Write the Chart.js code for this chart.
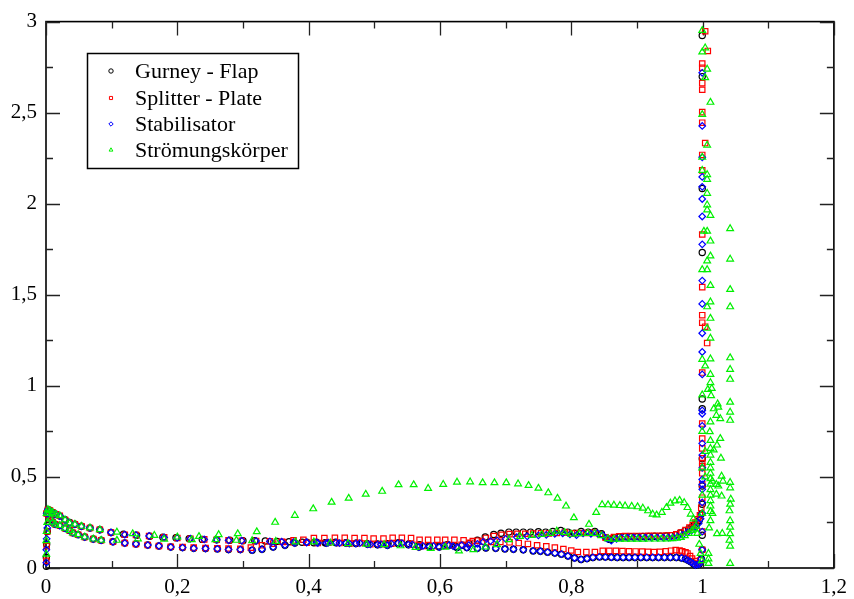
<!DOCTYPE html>
<html><head><meta charset="utf-8">
<script src="https://cdn.jsdelivr.net/npm/chart.js@4.4.1/dist/chart.umd.min.js"></script>
<style>html,body{margin:0;padding:0;background:#fff;}</style>
</head><body>
<canvas id="c" width="854" height="599"></canvas>
<script>
// ---------- tick labels ----------
const xTickValues = [0, 0.2, 0.4, 0.6, 0.8, 1, 1.2];
const xTickLabels = ['0', '0,2', '0,4', '0,6', '0,8', '1', '1,2'];
const xMinorTicks = [0.1, 0.3, 0.5, 0.7, 0.9, 1.1];
const yTickValues = [0, 0.5, 1, 1.5, 2, 2.5, 3];
const yTickLabels = ['0', '0,5', '1', '1,5', '2', '2,5', '3'];
const yMinorTicks = [0.25, 0.75, 1.25, 1.75, 2.25, 2.75];
const seriesNames = ['Gurney - Flap', 'Splitter - Plate', 'Stabilisator', 'Strömungskörper'];

// ---------- Gurney - Flap ----------
const gurneyUpper = [[0.001,0.30],[0.003,0.32],[0.006,0.315],[0.010,0.305],[0.015,0.295],[0.021,0.285],[0.029,0.265],[0.036,0.250],[0.044,0.240],[0.054,0.229],[0.067,0.220],[0.082,0.210],[0.099,0.195],[0.118,0.185],[0.138,0.180],[0.158,0.174],[0.178,0.169],[0.198,0.166],[0.218,0.161],[0.238,0.157],[0.260,0.155],[0.280,0.152],[0.300,0.150],[0.318,0.150],[0.334,0.148],[0.352,0.146],[0.370,0.144],[0.390,0.141],[0.408,0.139],[0.425,0.139],[0.441,0.141],[0.457,0.139],[0.473,0.137],[0.489,0.134],[0.505,0.132],[0.521,0.134],[0.537,0.139],[0.553,0.134],[0.569,0.128],[0.584,0.123],[0.598,0.121],[0.611,0.128],[0.624,0.118],[0.634,0.125],[0.644,0.134],[0.657,0.152],[0.669,0.170],[0.682,0.184],[0.693,0.191],[0.705,0.197],[0.716,0.197],[0.727,0.197],[0.738,0.197],[0.750,0.199],[0.761,0.197],[0.772,0.200],[0.784,0.206],[0.795,0.197],[0.805,0.191],[0.815,0.200],[0.826,0.197],[0.836,0.200],[0.846,0.188],[0.853,0.166],[0.859,0.157],[0.866,0.166],[0.873,0.170],[0.882,0.171],[0.891,0.172],[0.900,0.172],[0.909,0.173],[0.918,0.173],[0.927,0.174],[0.936,0.175],[0.945,0.176],[0.952,0.178],[0.959,0.182],[0.966,0.192],[0.973,0.204],[0.979,0.215],[0.984,0.226],[0.988,0.238],[0.992,0.250],[0.995,0.262],[0.998,0.296]];
const gurneyLower = [[0.0005,0.01],[0.0005,0.058],[0.001,0.13],[0.002,0.2],[0.004,0.29],[0.007,0.27],[0.010,0.251],[0.014,0.240],[0.021,0.233],[0.029,0.218],[0.036,0.206],[0.041,0.193],[0.049,0.183],[0.059,0.170],[0.072,0.159],[0.084,0.152],[0.102,0.144],[0.120,0.137],[0.137,0.132],[0.155,0.126],[0.172,0.121],[0.190,0.115],[0.208,0.112],[0.225,0.108],[0.243,0.107],[0.261,0.105],[0.278,0.101],[0.296,0.101],[0.314,0.098],[0.329,0.103],[0.346,0.115],[0.364,0.125],[0.379,0.137],[0.397,0.142],[0.412,0.141],[0.427,0.137],[0.442,0.139],[0.457,0.137],[0.472,0.134],[0.490,0.130],[0.505,0.128],[0.520,0.125],[0.536,0.135],[0.552,0.128],[0.568,0.115],[0.584,0.117],[0.599,0.115],[0.614,0.125],[0.626,0.112],[0.641,0.112],[0.657,0.108],[0.670,0.110],[0.685,0.108],[0.699,0.105],[0.712,0.103],[0.727,0.100],[0.742,0.094],[0.753,0.092],[0.764,0.087],[0.775,0.082],[0.785,0.076],[0.795,0.066],[0.805,0.055],[0.815,0.047],[0.824,0.052],[0.833,0.058],[0.843,0.061],[0.852,0.060],[0.861,0.059],[0.870,0.058],[0.879,0.058],[0.888,0.058],[0.897,0.058],[0.906,0.058],[0.915,0.058],[0.924,0.058],[0.933,0.058],[0.942,0.058],[0.951,0.058],[0.960,0.058],[0.968,0.055],[0.974,0.050],[0.978,0.042],[0.982,0.034],[0.986,0.024],[0.989,0.016],[0.992,0.018],[0.995,0.022],[0.998,0.05]];
const gurneyEdge = [[0.9995,0.10],[0.9995,0.18],[0.9995,0.35],[0.9995,0.45],[0.9995,0.60],[0.9995,0.874],[0.9995,0.928],[0.9995,1.732],[0.9995,2.084],[0.9995,2.698],[0.9995,2.924]];

// ---------- Splitter - Plate ----------
const splitterUpper = [[0.001,0.30],[0.003,0.32],[0.006,0.315],[0.010,0.305],[0.015,0.295],[0.021,0.287],[0.029,0.264],[0.036,0.247],[0.044,0.240],[0.054,0.229],[0.067,0.220],[0.082,0.210],[0.099,0.195],[0.120,0.183],[0.137,0.181],[0.157,0.176],[0.180,0.168],[0.200,0.165],[0.220,0.161],[0.241,0.157],[0.260,0.155],[0.278,0.152],[0.298,0.150],[0.320,0.148],[0.341,0.146],[0.359,0.144],[0.377,0.142],[0.397,0.139],[0.414,0.137],[0.430,0.139],[0.447,0.137],[0.462,0.134],[0.478,0.137],[0.494,0.130],[0.510,0.130],[0.526,0.134],[0.542,0.137],[0.558,0.128],[0.574,0.121],[0.590,0.121],[0.606,0.123],[0.620,0.125],[0.633,0.128],[0.646,0.138],[0.658,0.150],[0.670,0.165],[0.682,0.175],[0.694,0.182],[0.706,0.186],[0.718,0.188],[0.730,0.188],[0.742,0.189],[0.754,0.190],[0.766,0.190],[0.778,0.192],[0.790,0.195],[0.801,0.190],[0.812,0.192],[0.823,0.192],[0.834,0.193],[0.844,0.185],[0.852,0.168],[0.858,0.162],[0.865,0.170],[0.873,0.174],[0.882,0.175],[0.891,0.176],[0.900,0.176],[0.909,0.176],[0.918,0.177],[0.927,0.177],[0.936,0.177],[0.945,0.178],[0.953,0.180],[0.960,0.185],[0.967,0.195],[0.974,0.208],[0.980,0.222],[0.985,0.236],[0.989,0.250],[0.993,0.268],[0.996,0.290],[0.998,0.330]];
const splitterLower = [[0.0005,0.04],[0.001,0.12],[0.002,0.2],[0.004,0.29],[0.007,0.27],[0.010,0.251],[0.014,0.240],[0.021,0.233],[0.029,0.218],[0.036,0.206],[0.041,0.193],[0.049,0.183],[0.059,0.170],[0.072,0.159],[0.084,0.152],[0.102,0.144],[0.120,0.137],[0.137,0.132],[0.155,0.126],[0.172,0.121],[0.190,0.117],[0.208,0.115],[0.225,0.112],[0.243,0.110],[0.261,0.108],[0.278,0.107],[0.296,0.105],[0.312,0.112],[0.329,0.125],[0.346,0.134],[0.361,0.143],[0.377,0.152],[0.392,0.155],[0.408,0.164],[0.424,0.164],[0.440,0.166],[0.455,0.166],[0.470,0.164],[0.485,0.164],[0.499,0.162],[0.514,0.162],[0.528,0.166],[0.542,0.166],[0.556,0.164],[0.569,0.155],[0.582,0.155],[0.596,0.155],[0.608,0.155],[0.622,0.155],[0.636,0.152],[0.650,0.148],[0.664,0.145],[0.678,0.143],[0.692,0.143],[0.706,0.141],[0.720,0.137],[0.734,0.132],[0.748,0.125],[0.762,0.119],[0.775,0.112],[0.788,0.104],[0.800,0.096],[0.810,0.088],[0.823,0.087],[0.836,0.088],[0.848,0.094],[0.858,0.094],[0.868,0.094],[0.878,0.093],[0.888,0.092],[0.898,0.091],[0.908,0.090],[0.917,0.089],[0.926,0.088],[0.935,0.089],[0.944,0.092],[0.952,0.095],[0.959,0.098],[0.965,0.096],[0.969,0.092],[0.974,0.086],[0.977,0.080],[0.981,0.065],[0.984,0.052],[0.988,0.038],[0.992,0.025],[0.997,0.043]];
const splitterEdge = [[0.9995,0.10],[0.9995,0.2],[0.9995,0.386],[0.9995,0.459],[0.9995,0.52],[0.9995,0.558],[0.9995,0.576],[0.9995,0.603],[0.9995,0.657],[0.9995,0.711],[0.9995,0.793],[0.9995,1.073],[1.007,1.235],[1.004,1.325],[0.9995,1.347],[0.9995,1.388],[0.9995,1.542],[0.9995,1.831],[0.9995,2.183],[0.9995,2.268],[1.004,2.333],[0.9995,2.445],[0.9995,2.503],[0.9995,2.626],[0.9995,2.662],[0.9995,2.747],[0.9995,2.770],[1.008,2.839],[1.004,2.947]];

// ---------- Stabilisator ----------
const stabUpper = [[0.001,0.30],[0.003,0.32],[0.006,0.315],[0.010,0.305],[0.015,0.295],[0.021,0.287],[0.029,0.264],[0.036,0.247],[0.044,0.240],[0.054,0.229],[0.067,0.220],[0.082,0.210],[0.099,0.195],[0.120,0.183],[0.137,0.181],[0.157,0.176],[0.180,0.168],[0.200,0.165],[0.220,0.161],[0.241,0.157],[0.260,0.155],[0.278,0.152],[0.298,0.150],[0.320,0.148],[0.341,0.146],[0.359,0.144],[0.377,0.142],[0.397,0.139],[0.414,0.137],[0.430,0.139],[0.447,0.137],[0.462,0.134],[0.478,0.137],[0.494,0.130],[0.510,0.130],[0.526,0.134],[0.542,0.137],[0.558,0.128],[0.574,0.121],[0.590,0.121],[0.606,0.123],[0.620,0.120],[0.633,0.125],[0.644,0.125],[0.657,0.132],[0.666,0.143],[0.677,0.148],[0.687,0.152],[0.700,0.160],[0.717,0.170],[0.733,0.174],[0.750,0.179],[0.762,0.182],[0.775,0.188],[0.787,0.190],[0.798,0.185],[0.808,0.180],[0.818,0.190],[0.830,0.188],[0.840,0.190],[0.848,0.180],[0.855,0.160],[0.861,0.150],[0.869,0.160],[0.877,0.165],[0.886,0.166],[0.895,0.166],[0.904,0.166],[0.913,0.166],[0.922,0.167],[0.931,0.167],[0.940,0.167],[0.948,0.167],[0.955,0.168],[0.962,0.172],[0.970,0.182],[0.977,0.195],[0.984,0.208],[0.990,0.225],[0.994,0.245],[0.997,0.270]];
const stabLower = [[0.0005,0.029],[0.0005,0.10],[0.001,0.16],[0.002,0.22],[0.004,0.30],[0.007,0.27],[0.010,0.251],[0.014,0.240],[0.021,0.233],[0.029,0.218],[0.036,0.206],[0.041,0.193],[0.049,0.183],[0.059,0.170],[0.072,0.159],[0.084,0.152],[0.102,0.144],[0.120,0.137],[0.137,0.132],[0.155,0.126],[0.172,0.121],[0.190,0.115],[0.208,0.112],[0.225,0.108],[0.243,0.107],[0.261,0.105],[0.278,0.101],[0.296,0.101],[0.314,0.098],[0.329,0.103],[0.346,0.115],[0.364,0.125],[0.379,0.137],[0.397,0.142],[0.412,0.141],[0.427,0.137],[0.442,0.139],[0.457,0.137],[0.472,0.134],[0.490,0.130],[0.505,0.128],[0.520,0.125],[0.536,0.135],[0.552,0.128],[0.568,0.115],[0.584,0.117],[0.599,0.115],[0.614,0.125],[0.626,0.112],[0.641,0.112],[0.657,0.108],[0.670,0.110],[0.685,0.108],[0.699,0.105],[0.712,0.103],[0.727,0.100],[0.742,0.094],[0.753,0.092],[0.764,0.087],[0.775,0.082],[0.785,0.076],[0.795,0.066],[0.805,0.055],[0.815,0.047],[0.824,0.052],[0.833,0.058],[0.843,0.061],[0.852,0.060],[0.861,0.059],[0.870,0.058],[0.879,0.058],[0.888,0.058],[0.897,0.058],[0.906,0.058],[0.915,0.058],[0.924,0.058],[0.933,0.058],[0.942,0.058],[0.951,0.058],[0.960,0.058],[0.968,0.055],[0.974,0.050],[0.978,0.042],[0.982,0.034],[0.986,0.024],[0.989,0.016],[0.992,0.018],[0.995,0.022],[0.998,0.05]];
const stabEdge = [[0.9995,0.10],[0.9995,0.20],[0.9995,0.30],[0.9995,0.36],[0.9995,0.432],[0.9995,0.459],[0.9995,0.486],[0.9995,0.55],[0.9995,0.62],[0.9995,0.684],[0.9995,0.78],[0.9995,0.847],[0.9995,0.865],[0.9995,1.063],[0.9995,1.186],[0.9995,1.289],[0.9995,1.45],[0.9995,1.578],[0.9995,1.777],[0.9995,1.930],[0.9995,2.026],[0.9995,2.093],[0.9995,2.147],[0.9995,2.255],[0.9995,2.427],[0.9995,2.719]];

// ---------- Strömungskörper ----------
const stroemUpper = [[0.001,0.30],[0.003,0.32],[0.006,0.315],[0.010,0.305],[0.015,0.295],[0.021,0.287],[0.029,0.264],[0.036,0.247],[0.044,0.240],[0.054,0.229],[0.067,0.220],[0.082,0.210],[0.108,0.197],[0.132,0.188],[0.165,0.179],[0.200,0.170],[0.233,0.173],[0.263,0.183],[0.292,0.188],[0.321,0.199],[0.349,0.251],[0.379,0.289],[0.407,0.325],[0.435,0.361],[0.461,0.383],[0.487,0.405],[0.512,0.421],[0.537,0.457],[0.560,0.457],[0.582,0.437],[0.605,0.459],[0.626,0.471],[0.646,0.473],[0.665,0.468],[0.683,0.468],[0.701,0.468],[0.719,0.462],[0.735,0.453],[0.750,0.438],[0.765,0.413],[0.779,0.383],[0.792,0.340],[0.804,0.276],[0.827,0.240],[0.838,0.305],[0.847,0.348],[0.856,0.347],[0.865,0.345],[0.874,0.343],[0.882,0.341],[0.892,0.339],[0.901,0.336],[0.909,0.329],[0.917,0.314],[0.924,0.296],[0.930,0.291],[0.938,0.305],[0.945,0.332],[0.951,0.356],[0.958,0.368],[0.965,0.372],[0.972,0.359],[0.977,0.332],[0.982,0.296],[0.986,0.269],[0.990,0.230]];
const stroemLower = [[0.0005,0.076],[0.0005,0.15],[0.001,0.2],[0.002,0.25],[0.004,0.3],[0.007,0.27],[0.010,0.251],[0.014,0.240],[0.021,0.233],[0.029,0.218],[0.036,0.206],[0.041,0.193],[0.049,0.183],[0.059,0.170],[0.072,0.159],[0.084,0.152],[0.108,0.152],[0.140,0.160],[0.180,0.158],[0.222,0.155],[0.258,0.155],[0.290,0.152],[0.314,0.150],[0.350,0.146],[0.380,0.143],[0.408,0.143],[0.433,0.137],[0.460,0.134],[0.488,0.131],[0.515,0.128],[0.540,0.122],[0.563,0.113],[0.586,0.108],[0.608,0.114],[0.629,0.094],[0.651,0.101],[0.669,0.115],[0.687,0.128],[0.705,0.155],[0.722,0.173],[0.740,0.179],[0.755,0.184],[0.768,0.190],[0.778,0.202],[0.790,0.195],[0.800,0.185],[0.812,0.188],[0.825,0.190],[0.836,0.190],[0.846,0.178],[0.856,0.161],[0.865,0.158],[0.874,0.158],[0.883,0.158],[0.892,0.158],[0.901,0.158],[0.910,0.158],[0.919,0.159],[0.928,0.159],[0.937,0.159],[0.946,0.160],[0.954,0.161],[0.961,0.163],[0.967,0.168],[0.973,0.178],[0.979,0.190],[0.984,0.206],[0.988,0.215],[0.992,0.190],[0.995,0.130],[0.997,0.080],[0.999,0.040]];
const stroemEdge = [[0.9995,2.951],[1.004,2.856],[0.9995,2.833],[1.007,2.739],[1.004,2.692],[1.012,2.557],[0.9995,2.490],[1.007,2.322],[0.9995,2.255],[0.9995,2.183],[1.007,2.160],[1.007,2.134],[1.007,2.057],[1.007,1.994],[1.007,1.966],[1.012,1.936],[1.042,1.863],[1.002,1.849],[1.007,1.849],[1.012,1.795],[1.012,1.713],[1.007,1.686],[1.042,1.696],[0.9995,1.638],[1.007,1.638],[1.012,1.551],[1.042,1.529],[1.012,1.461],[1.042,1.434],[1.007,1.434],[1.012,1.371],[1.007,1.316],[1.012,1.262],[0.9995,1.145],[1.012,1.148],[1.042,1.154],[1.004,1.109],[1.012,1.063],[1.042,1.090],[1.042,1.036],[1.012,1.018],[1.014,0.986],[1.008,0.98],[1.013,0.946],[1.017,0.874],[1.023,0.901],[1.024,0.883],[1.042,0.910],[1.042,0.856],[1.042,0.811],[1.021,0.838],[1.027,0.820],[1.012,0.802],[1.011,0.748],[1.027,0.711],[1.022,0.675],[1.017,0.648],[1.012,0.657],[1.028,0.603],[1.012,0.70],[1.012,0.62],[1.012,0.58],[1.012,0.55],[1.012,0.52],[1.012,0.49],[1.012,0.46],[1.012,0.43],[1.012,0.40],[1.012,0.37],[1.012,0.34],[1.012,0.31],[1.015,0.477],[1.021,0.459],[1.029,0.504],[1.031,0.477],[1.024,0.450],[1.021,0.405],[1.029,0.395],[1.043,0.378],[1.041,0.314],[1.042,0.260],[1.042,0.224],[1.042,0.188],[1.041,0.152],[1.042,0.025],[1.042,0.44],[1.042,0.47],[1.042,0.35],[1.042,0.12],[1.022,0.188],[1.012,0.26],[1.010,0.22],[1.009,0.08],[1.009,0.025],[1.009,0.05],[1.015,0.30],[1.03,0.19],[0.9995,0.75],[0.9995,0.55],[0.9995,0.40],[0.9995,0.30],[0.9995,0.95],[1.004,0.64],[1.004,0.5]];

// ---------- build ----------
const pts = (...tracks) => tracks.flat().map(([x, y]) => ({ x, y }));
const FONT = 'Liberation Serif, Times New Roman, serif';

const datasets = [
  { label: seriesNames[0], data: pts(gurneyUpper, gurneyLower, gurneyEdge), borderColor: '#000000', pointStyle: 'circle', pointRadius: 3.1, order: 3 },
  { label: seriesNames[1], data: pts(splitterUpper, splitterLower, splitterEdge), borderColor: '#ff0000', pointStyle: 'rect', pointRadius: 3.8, order: 2 },
  { label: seriesNames[2], data: pts(stabUpper, stabLower, stabEdge), borderColor: '#0000ff', pointStyle: 'rectRot', pointRadius: 3.3, order: 1 },
  { label: seriesNames[3], data: pts(stroemUpper, stroemLower, stroemEdge), borderColor: '#00f000', pointStyle: 'triangle', pointRadius: 3.9, order: 0 }
].map(d => Object.assign(d, { backgroundColor: 'rgba(0,0,0,0)', borderWidth: 1.2, pointBorderWidth: 1.2, showLine: false, clip: false, pointHoverRadius: d.pointRadius }));

const framePlugin = {
  id: 'frame',
  beforeDatasetsDraw(chart) {
    const { ctx, chartArea: a, scales } = chart;
    ctx.save();
    ctx.strokeStyle = '#000';
    ctx.lineWidth = 1.6;
    ctx.strokeRect(a.left, a.top, a.right - a.left, a.bottom - a.top);
    ctx.lineWidth = 1.3;
    ctx.strokeStyle = '#222';
    const tickX = (v, len) => {
      const px = Math.round(scales.x.getPixelForValue(v)) + 0.5;
      ctx.beginPath();
      ctx.moveTo(px, a.bottom); ctx.lineTo(px, a.bottom - len);
      ctx.moveTo(px, a.top); ctx.lineTo(px, a.top + len);
      ctx.stroke();
    };
    const tickY = (v, len) => {
      const py = Math.round(scales.y.getPixelForValue(v)) + 0.5;
      ctx.beginPath();
      ctx.moveTo(a.left, py); ctx.lineTo(a.left + len, py);
      ctx.moveTo(a.right, py); ctx.lineTo(a.right - len, py);
      ctx.stroke();
    };
    xTickValues.forEach(v => tickX(v, 14));
    xMinorTicks.forEach(v => tickX(v, 7));
    yTickValues.forEach(v => tickY(v, 14));
    yMinorTicks.forEach(v => tickY(v, 7));
    ctx.restore();
  }
};

const legendPlugin = {
  id: 'boxLegend',
  afterDraw(chart) {
    const { ctx } = chart;
    ctx.save();
    ctx.fillStyle = '#fff';
    ctx.fillRect(87, 53, 211, 115);
    ctx.strokeStyle = '#000';
    ctx.lineWidth = 1.5;
    ctx.strokeRect(87.5, 53.5, 211, 115);
    ctx.font = '22px ' + FONT;
    ctx.textBaseline = 'middle';
    const rows = [71, 98, 124, 150];
    chart.data.datasets.forEach((ds, i) => {
      ctx.strokeStyle = ds.borderColor;
      ctx.fillStyle = 'rgba(0,0,0,0)';
      ctx.lineWidth = 1;
      Chart.helpers.drawPoint(ctx, { pointStyle: ds.pointStyle, radius: 2.2, borderWidth: 1, rotation: 0 }, 111, rows[i]);
      ctx.fillStyle = '#000';
      ctx.fillText(ds.label, 135, rows[i] + 1);
    });
    ctx.restore();
  }
};

new Chart(document.getElementById('c'), {
  type: 'scatter',
  data: { datasets },
  options: {
    responsive: false,
    animation: false,
    devicePixelRatio: 1,
    layout: { padding: { top: 14, right: 15, left: 0, bottom: 0 } },
    plugins: { legend: { display: false }, tooltip: { enabled: false } },
    elements: { point: { hitRadius: 0 } },
    scales: {
      x: {
        type: 'linear', min: 0, max: 1.2,
        afterBuildTicks: s => { s.ticks = xTickValues.map(v => ({ value: v })); },
        afterFit: s => { s.height = 31; },
        grid: { display: false, drawTicks: false },
        border: { display: false },
        ticks: { autoSkip: false, maxRotation: 0, padding: 7, color: '#000', font: { family: FONT, size: 21 }, callback: (v, i) => xTickLabels[i] }
      },
      y: {
        type: 'linear', min: 0, max: 3,
        afterBuildTicks: s => { s.ticks = yTickValues.map(v => ({ value: v })); },
        afterFit: s => { s.width = 46; },
        grid: { display: false, drawTicks: false },
        border: { display: false },
        ticks: { autoSkip: false, padding: 9, color: '#000', font: { family: FONT, size: 21 }, callback: (v, i) => yTickLabels[i] }
      }
    }
  },
  plugins: [framePlugin, legendPlugin]
});
</script>
</body></html>
